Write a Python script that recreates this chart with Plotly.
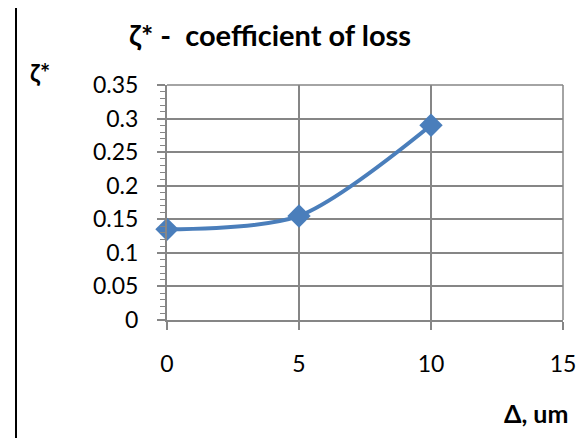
import plotly.graph_objects as go

x_vals = [0, 5, 10]
y_vals = [0.135, 0.155, 0.29]
x_ticks = [0, 5, 10, 15]
y_ticks = [0, 0.05, 0.1, 0.15, 0.2, 0.25, 0.3, 0.35]
y_tick_labels = ["0", "0.05", "0.1", "0.15", "0.2", "0.25", "0.3", "0.35"]

W, H = 585, 438
OFF = 8  # page body margin
ml, mt = 167 - OFF, 85 - OFF
pr, pb = 563 - OFF, 320 - OFF
mr, mb = W - pr, H - pb
FONT = "Lato"
AX = "#868686"

fig = go.Figure()
fig.add_trace(go.Scatter(
    x=x_vals, y=y_vals, mode="lines+markers",
    line=dict(color="#4a7ebb", width=4, shape="spline", smoothing=0.8),
    marker=dict(symbol="diamond", size=18, color="#4a7ebb"),
    showlegend=False, cliponaxis=False,
))

pw = W - ml - mr
ph = H - mt - mb

def px(xp):
    return (xp - OFF - ml) / pw

def py(yp):
    return (H - mb - (yp - OFF)) / ph

fig.update_layout(
    width=W, height=H,
    margin=dict(l=ml, r=mr, t=mt, b=mb),
    paper_bgcolor="white", plot_bgcolor="white",
    font=dict(family=FONT, size=23, color="#000000"),
    xaxis=dict(range=[0, 15], tickvals=x_ticks, ticktext=[str(v) for v in x_ticks],
               showgrid=True, gridcolor=AX, gridwidth=1.5,
               showline=True, linecolor=AX, linewidth=2, mirror=False,
               ticks="outside", ticklen=8, tickwidth=2, tickcolor=AX,
               ticklabelstandoff=14, zeroline=False,
               tickfont=dict(family=FONT, size=23)),
    yaxis=dict(range=[0, 0.35], tickvals=y_ticks, ticktext=y_tick_labels,
               showgrid=True, gridcolor=AX, gridwidth=1.5,
               showline=True, linecolor=AX, linewidth=2,
               ticks="outside", ticklen=8, tickwidth=2, tickcolor=AX,
               ticklabelstandoff=14, zeroline=False,
               minor=dict(dtick=0.01, ticks="outside", ticklen=5, tickwidth=1, tickcolor=AX, showgrid=False),
               tickfont=dict(family=FONT, size=23)),
    shapes=[
        dict(type="line", xref="paper", yref="paper",
             x0=px(16), x1=px(16), y0=py(440), y1=py(-2),
             line=dict(color="black", width=2)),
        dict(type="line", xref="paper", yref="paper",
             x0=1, x1=1, y0=0, y1=1, line=dict(color=AX, width=1.5)),
        dict(type="line", xref="paper", yref="paper",
             x0=0, x1=1, y0=1, y1=1, line=dict(color=AX, width=1.5)),
    ],
    annotations=[
        dict(text="<b>ζ* -  coefficient of loss</b>", xref="paper", yref="paper",
             x=px(270), y=py(34), xanchor="center", yanchor="middle",
             showarrow=False, font=dict(family=FONT, size=29)),
        dict(text="<b>ζ*</b>", xref="paper", yref="paper",
             x=px(40), y=py(72), xanchor="center", yanchor="middle",
             showarrow=False, font=dict(family=FONT, size=24)),
        dict(text="<b>Δ, um</b>", xref="paper", yref="paper",
             x=px(536), y=py(413), xanchor="center", yanchor="middle",
             showarrow=False, font=dict(family=FONT, size=25)),
    ],
)
fig.write_html("out.html")
